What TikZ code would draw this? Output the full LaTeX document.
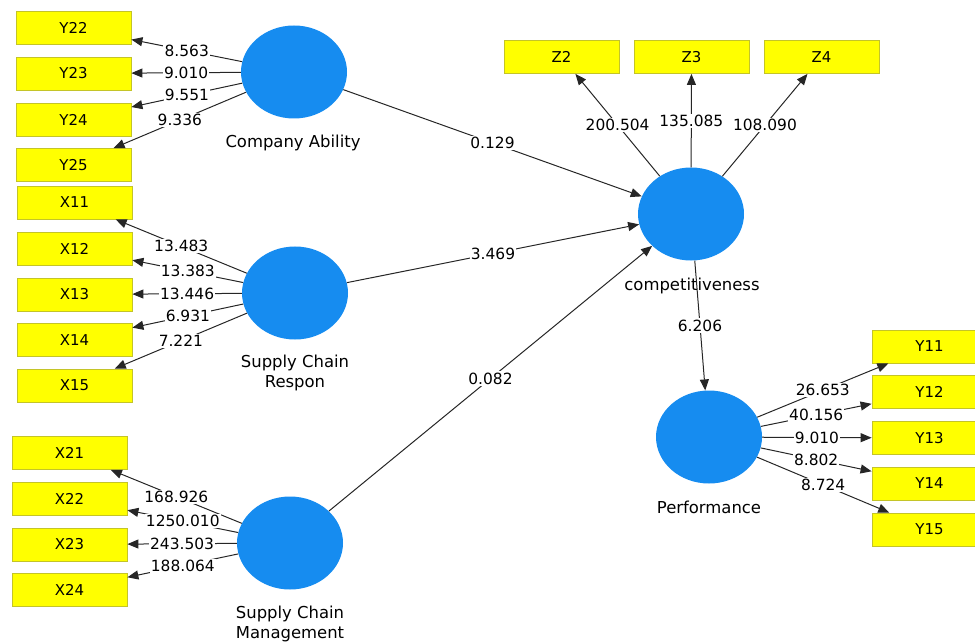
\documentclass[tikz,border=0pt]{standalone}
\usepackage{fontspec}
\setmainfont{DejaVu Sans}
\usetikzlibrary{arrows.meta}
\usetikzlibrary{shapes.geometric}
\definecolor{indyellow}{RGB}{255,255,0}
\definecolor{indborder}{RGB}{196,196,40}
\definecolor{latblue}{RGB}{22,140,240}

\begin{document}
\begin{tikzpicture}[x=1bp,y=-1bp,
		>={Triangle[length=11bp,width=9bp]},
		indic/.style={rectangle,fill=indyellow,draw=indborder,line width=0.8bp,minimum width=115bp,minimum height=33bp,inner sep=0pt,font=\fontsize{15}{17}\selectfont},
		latent/.style={ellipse,fill=latblue,minimum width=106bp,minimum height=93bp,inner sep=0pt},
		latname/.style={align=center,font=\fontsize{16.5}{20}\selectfont},
		coef/.style={fill=white,inner sep=1.2bp,font=\fontsize{15.5}{17}\selectfont},
		link/.style={draw=black!85,line width=1bp}]
		\useasboundingbox (0,0) rectangle (975,642); %marco
		\node[latent] (CA) at (294,72) {}; %variables latentes
		\node[latent] (SCR) at (295,293) {};
		\node[latent] (SCM) at (290,543) {};
		\node[latent] (COMP) at (691,214) {};
		\node[latent] (PERF) at (709,437) {};
		\node[latname] (CAname) at (293,143) {Company Ability}; %nombres
		\node[latname] (SCRname) at (295,373) {Supply Chain\\Respon};
		\node[latname] (SCMname) at (290,624) {Supply Chain\\Management};
		\node[latname] (COMPname) at (692,286) {competitiveness};
		\node[latname] (PERFname) at (709,507) {Performance};
		\node[indic] (Y22) at (73.5,28) {Y22}; %indicadores de Company Ability
		\node[indic] (Y23) at (73.5,73.5) {Y23};
		\node[indic] (Y24) at (73.5,119.5) {Y24};
		\node[indic] (Y25) at (73.5,165) {Y25};
		\node[indic] (X11) at (74.5,202.5) {X11}; %indicadores de Supply Chain Respon
		\node[indic] (X12) at (74.5,248.5) {X12};
		\node[indic] (X13) at (74.5,294.5) {X13};
		\node[indic] (X14) at (74.5,340) {X14};
		\node[indic] (X15) at (74.5,385.5) {X15};
		\node[indic] (X21) at (69.5,453) {X21}; %indicadores de Supply Chain Management
		\node[indic] (X22) at (69.5,498.5) {X22};
		\node[indic] (X23) at (69.5,544.5) {X23};
		\node[indic] (X24) at (69.5,589.5) {X24};
		\node[indic] (Z2) at (561.5,57) {Z2}; %indicadores de competitiveness
		\node[indic] (Z3) at (691.5,57) {Z3};
		\node[indic] (Z4) at (821.5,57) {Z4};
		\node[indic] (Y11) at (929.5,346.5) {Y11}; %indicadores de Performance
		\node[indic] (Y12) at (929.5,392) {Y12};
		\node[indic] (Y13) at (929.5,438) {Y13};
		\node[indic] (Y14) at (929.5,483.5) {Y14};
		\node[indic] (Y15) at (929.5,529.5) {Y15};
		\draw[link,->] (CA) -- node[coef] {8.563} (Y22); %cargas de Company Ability
		\draw[link,->] (CA) -- node[coef] {9.010} (Y23);
		\draw[link,->] (CA) -- node[coef] {9.551} (Y24);
		\draw[link,->] (CA) -- node[coef] {9.336} (Y25);
		\draw[link,->] (SCR) -- node[coef] {13.483} (X11); %cargas de Supply Chain Respon
		\draw[link,->] (SCR) -- node[coef] {13.383} (X12);
		\draw[link,->] (SCR) -- node[coef] {13.446} (X13);
		\draw[link,->] (SCR) -- node[coef] {6.931} (X14);
		\draw[link,->] (SCR) -- node[coef] {7.221} (X15);
		\draw[link,->] (SCM) -- node[coef] {168.926} (X21); %cargas de Supply Chain Management
		\draw[link,->] (SCM) -- node[coef] {1250.010} (X22);
		\draw[link,->] (SCM) -- node[coef] {243.503} (X23);
		\draw[link,->] (SCM) -- node[coef] {188.064} (X24);
		\draw[link,->] (COMP) -- node[coef] {200.504} (Z2); %cargas de competitiveness
		\draw[link,->] (COMP) -- node[coef] {135.085} (Z3);
		\draw[link,->] (COMP) -- node[coef] {108.090} (Z4);
		\draw[link,->] (PERF) -- node[coef] {26.653} (Y11); %cargas de Performance
		\draw[link,->] (PERF) -- node[coef] {40.156} (Y12);
		\draw[link,->] (PERF) -- node[coef] {9.010} (Y13);
		\draw[link,->] (PERF) -- node[coef] {8.802} (Y14);
		\draw[link,->] (PERF) -- node[coef] {8.724} (Y15);
		\draw[link,->] (CA) -- node[coef] {0.129} (COMP); %modelo estructural
		\draw[link,->] (SCR) -- node[coef] {3.469} (COMP);
		\draw[link,->] (SCM) -- node[coef] {0.082} (COMP);
		\draw[link,->] (COMP) -- node[coef] {6.206} (PERF);
		\end{tikzpicture}
\end{document}
